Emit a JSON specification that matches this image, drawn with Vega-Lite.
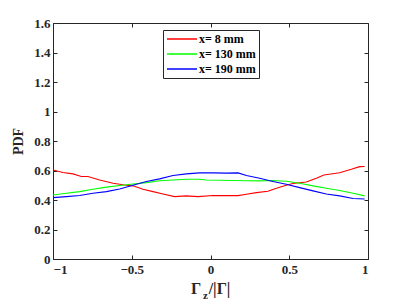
{
  "$schema": "https://vega.github.io/schema/vega-lite/v6.json",
  "autosize": {"type": "none"},
  "padding": {"left": 53, "top": 23, "right": 39, "bottom": 46},
  "width": 315,
  "height": 236,
  "background": "white",
  "config": {
    "view": {"stroke": "#262626", "strokeWidth": 1},
    "font": "Liberation Serif",
    "axis": {
      "grid": false,
      "domain": false,
      "tickColor": "#262626",
      "tickSize": -4,
      "tickWidth": 1,
      "labelFont": "Liberation Serif",
      "labelFontWeight": "bold",
      "labelFontSize": 13,
      "labelColor": "#262626",
      "titleFont": "Liberation Serif",
      "titleFontWeight": "bold",
      "titleFontSize": 14,
      "titleColor": "#262626"
    }
  },
  "data": {
    "values": [
      {"g": -1.0, "pdf": 0.604, "s": "x= 8 mm"},
      {"g": -0.937, "pdf": 0.586, "s": "x= 8 mm"},
      {"g": -0.873, "pdf": 0.577, "s": "x= 8 mm"},
      {"g": -0.82, "pdf": 0.559, "s": "x= 8 mm"},
      {"g": -0.778, "pdf": 0.559, "s": "x= 8 mm"},
      {"g": -0.704, "pdf": 0.536, "s": "x= 8 mm"},
      {"g": -0.619, "pdf": 0.514, "s": "x= 8 mm"},
      {"g": -0.545, "pdf": 0.502, "s": "x= 8 mm"},
      {"g": -0.492, "pdf": 0.496, "s": "x= 8 mm"},
      {"g": -0.429, "pdf": 0.473, "s": "x= 8 mm"},
      {"g": -0.365, "pdf": 0.457, "s": "x= 8 mm"},
      {"g": -0.302, "pdf": 0.441, "s": "x= 8 mm"},
      {"g": -0.228, "pdf": 0.423, "s": "x= 8 mm"},
      {"g": -0.153, "pdf": 0.428, "s": "x= 8 mm"},
      {"g": -0.079, "pdf": 0.423, "s": "x= 8 mm"},
      {"g": 0.016, "pdf": 0.43, "s": "x= 8 mm"},
      {"g": 0.1, "pdf": 0.43, "s": "x= 8 mm"},
      {"g": 0.175, "pdf": 0.43, "s": "x= 8 mm"},
      {"g": 0.228, "pdf": 0.439, "s": "x= 8 mm"},
      {"g": 0.291, "pdf": 0.45, "s": "x= 8 mm"},
      {"g": 0.365, "pdf": 0.459, "s": "x= 8 mm"},
      {"g": 0.418, "pdf": 0.48, "s": "x= 8 mm"},
      {"g": 0.481, "pdf": 0.5, "s": "x= 8 mm"},
      {"g": 0.524, "pdf": 0.512, "s": "x= 8 mm"},
      {"g": 0.608, "pdf": 0.522, "s": "x= 8 mm"},
      {"g": 0.672, "pdf": 0.548, "s": "x= 8 mm"},
      {"g": 0.72, "pdf": 0.57, "s": "x= 8 mm"},
      {"g": 0.82, "pdf": 0.585, "s": "x= 8 mm"},
      {"g": 0.894, "pdf": 0.608, "s": "x= 8 mm"},
      {"g": 0.947, "pdf": 0.626, "s": "x= 8 mm"},
      {"g": 0.979, "pdf": 0.627, "s": "x= 8 mm"},

      {"g": -1.0, "pdf": 0.434, "s": "x= 130 mm"},
      {"g": -0.915, "pdf": 0.446, "s": "x= 130 mm"},
      {"g": -0.831, "pdf": 0.457, "s": "x= 130 mm"},
      {"g": -0.746, "pdf": 0.473, "s": "x= 130 mm"},
      {"g": -0.661, "pdf": 0.487, "s": "x= 130 mm"},
      {"g": -0.577, "pdf": 0.498, "s": "x= 130 mm"},
      {"g": -0.492, "pdf": 0.509, "s": "x= 130 mm"},
      {"g": -0.407, "pdf": 0.518, "s": "x= 130 mm"},
      {"g": -0.323, "pdf": 0.53, "s": "x= 130 mm"},
      {"g": -0.238, "pdf": 0.536, "s": "x= 130 mm"},
      {"g": -0.153, "pdf": 0.541, "s": "x= 130 mm"},
      {"g": -0.069, "pdf": 0.541, "s": "x= 130 mm"},
      {"g": -0.026, "pdf": 0.536, "s": "x= 130 mm"},
      {"g": 0.058, "pdf": 0.534, "s": "x= 130 mm"},
      {"g": 0.143, "pdf": 0.532, "s": "x= 130 mm"},
      {"g": 0.228, "pdf": 0.53, "s": "x= 130 mm"},
      {"g": 0.312, "pdf": 0.53, "s": "x= 130 mm"},
      {"g": 0.397, "pdf": 0.532, "s": "x= 130 mm"},
      {"g": 0.481, "pdf": 0.527, "s": "x= 130 mm"},
      {"g": 0.566, "pdf": 0.514, "s": "x= 130 mm"},
      {"g": 0.651, "pdf": 0.496, "s": "x= 130 mm"},
      {"g": 0.735, "pdf": 0.48, "s": "x= 130 mm"},
      {"g": 0.82, "pdf": 0.464, "s": "x= 130 mm"},
      {"g": 0.905, "pdf": 0.446, "s": "x= 130 mm"},
      {"g": 0.979, "pdf": 0.428, "s": "x= 130 mm"},

      {"g": -1.0, "pdf": 0.416, "s": "x= 190 mm"},
      {"g": -0.915, "pdf": 0.423, "s": "x= 190 mm"},
      {"g": -0.831, "pdf": 0.43, "s": "x= 190 mm"},
      {"g": -0.746, "pdf": 0.446, "s": "x= 190 mm"},
      {"g": -0.661, "pdf": 0.457, "s": "x= 190 mm"},
      {"g": -0.577, "pdf": 0.475, "s": "x= 190 mm"},
      {"g": -0.492, "pdf": 0.5, "s": "x= 190 mm"},
      {"g": -0.407, "pdf": 0.525, "s": "x= 190 mm"},
      {"g": -0.323, "pdf": 0.543, "s": "x= 190 mm"},
      {"g": -0.238, "pdf": 0.566, "s": "x= 190 mm"},
      {"g": -0.153, "pdf": 0.577, "s": "x= 190 mm"},
      {"g": -0.069, "pdf": 0.584, "s": "x= 190 mm"},
      {"g": 0.016, "pdf": 0.584, "s": "x= 190 mm"},
      {"g": 0.1, "pdf": 0.582, "s": "x= 190 mm"},
      {"g": 0.175, "pdf": 0.584, "s": "x= 190 mm"},
      {"g": 0.228, "pdf": 0.566, "s": "x= 190 mm"},
      {"g": 0.312, "pdf": 0.548, "s": "x= 190 mm"},
      {"g": 0.397, "pdf": 0.525, "s": "x= 190 mm"},
      {"g": 0.481, "pdf": 0.507, "s": "x= 190 mm"},
      {"g": 0.566, "pdf": 0.484, "s": "x= 190 mm"},
      {"g": 0.651, "pdf": 0.462, "s": "x= 190 mm"},
      {"g": 0.735, "pdf": 0.441, "s": "x= 190 mm"},
      {"g": 0.82, "pdf": 0.428, "s": "x= 190 mm"},
      {"g": 0.905, "pdf": 0.41, "s": "x= 190 mm"},
      {"g": 0.979, "pdf": 0.407, "s": "x= 190 mm"}
    ]
  },
  "resolve": {"axis": {"x": "independent", "y": "independent"}},
  "layer": [
    {
      "mark": {"type": "line", "strokeWidth": 1.1, "clip": true},
      "encoding": {
        "x": {
          "field": "g", "type": "quantitative",
          "scale": {"domain": [-1, 1], "nice": false},
          "axis": {"orient": "bottom", "values": [-1, -0.5, 0, 0.5, 1], "format": "~g", "labelPadding": 8, "title": "Γ", "titleFontSize": 16, "titleX": 142.5, "titleY": 34, "titleBaseline": "alphabetic", "titleAlign": "center"}
        },
        "y": {
          "field": "pdf", "type": "quantitative",
          "scale": {"domain": [0, 1.6], "nice": false},
          "axis": {"orient": "left", "values": [0, 0.2, 0.4, 0.6, 0.8, 1, 1.2, 1.4, 1.6], "format": "~g", "labelPadding": 7, "title": "PDF", "titlePadding": 8}
        },
        "color": {
          "field": "s", "type": "nominal",
          "scale": {"domain": ["x= 8 mm", "x= 130 mm", "x= 190 mm"], "range": ["#ff0000", "#00ff00", "#0000ff"]},
          "legend": {
            "orient": "none", "legendX": 110, "legendY": 7, "title": null,
            "symbolType": "M-3,0H3", "symbolSize": 100, "symbolStrokeWidth": 1.5, "symbolOffset": 10,
            "labelFont": "Liberation Serif", "labelFontWeight": "bold", "labelFontSize": 12, "labelColor": "black",
            "strokeColor": "#262626", "fillColor": "white", "padding": 3, "rowPadding": 3, "labelOffset": 11
          }
        }
      }
    },
    {
      "mark": {"type": "line", "opacity": 0},
      "encoding": {
        "x": {
          "field": "g", "type": "quantitative",
          "axis": {"orient": "top", "values": [-1, -0.5, 0, 0.5, 1], "labels": false, "title": "z", "titleFontSize": 11, "titleX": 152, "titleY": 275, "titleBaseline": "alphabetic", "titleAlign": "center"}
        },
        "y": {
          "field": "pdf", "type": "quantitative",
          "axis": {"orient": "right", "values": [0, 0.2, 0.4, 0.6, 0.8, 1, 1.2, 1.4, 1.6], "labels": false, "title": "/|Γ|", "titleFontSize": 16, "titleAngle": 0, "titleX": -149, "titleY": 270, "titleBaseline": "alphabetic", "titleAlign": "center"}
        },
        "detail": {"field": "s", "type": "nominal"}
      }
    }
  ]
}
